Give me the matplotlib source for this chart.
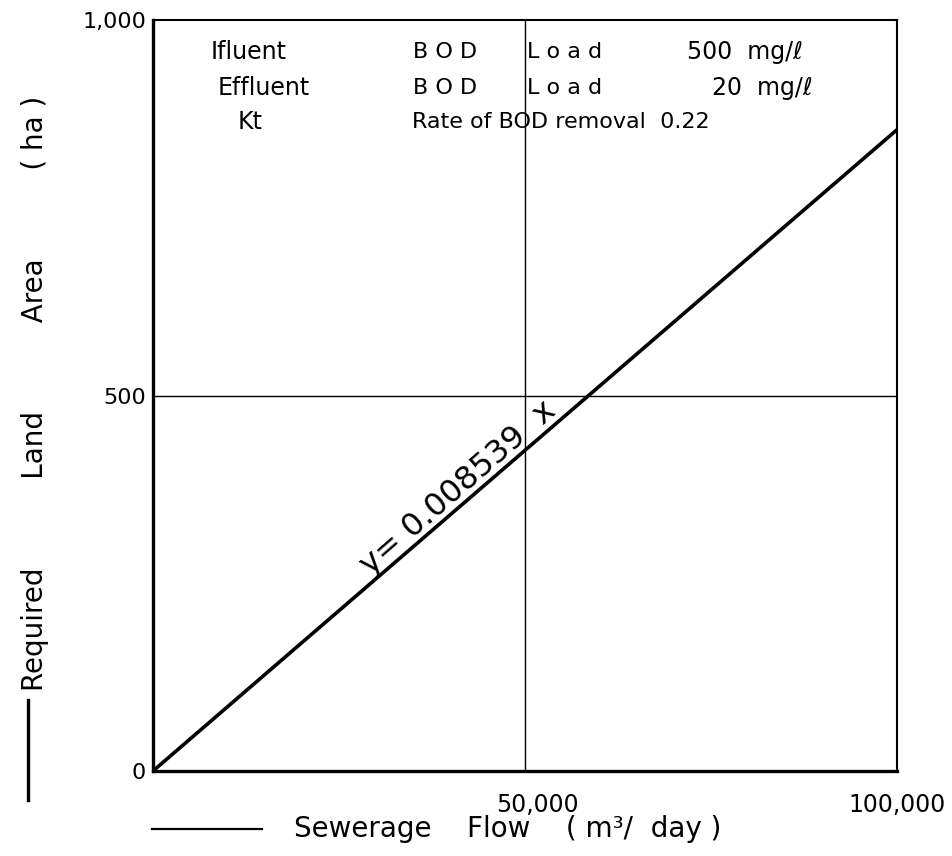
import numpy as np
import matplotlib
matplotlib.use("Agg")
import matplotlib.pyplot as plt
from matplotlib.transforms import ScaledTranslation

# data
flow = [0, 100000]            # m3/day
slope = 0.008539              # y = 0.008539 x
area = [slope * f for f in flow]

x_ticks = [50000, 100000]
x_ticklabels = ["50,000", "100,000"]
y_ticks = [0, 500, 1000]
y_ticklabels = ["0", "500", "1,000"]

row_names = ["Ifluent", "Effluent"]
row_param = ["B O D", "B O D"]
row_kind = ["L o a d", "L o a d"]
row_values = ["500  mg/\u2113", "20  mg/\u2113"]
kt_text = "Rate of BOD removal  0.22"

plt.rcParams["font.family"] = ["DejaVu Sans"]

fig = plt.figure(figsize=(9.53, 8.56), dpi=100)
ax = fig.add_axes([0.1605, 0.0993, 0.7807, 0.8773])

ax.plot(flow, area, color="black", lw=2.6, solid_capstyle="butt")

# grid lines at the mid values
ax.axvline(50000, color="black", lw=1.0)
ax.axhline(500, color="black", lw=1.0)

ax.set_xlim(0, 100000)
ax.set_ylim(0, 1000)

ax.set_xticks(x_ticks)
ax.set_xticklabels(x_ticklabels, fontsize=17)
ax.set_yticks(y_ticks)
ax.set_yticklabels(y_ticklabels, fontsize=16)
ax.tick_params(axis="both", length=0)
ax.tick_params(axis="x", pad=16)
ax.tick_params(axis="y", pad=5)
shift = ScaledTranslation(12 / 100, 0, fig.dpi_scale_trans)
lab0 = ax.get_xticklabels()[0]
lab0.set_transform(lab0.get_transform() + shift)

for s in ["left", "bottom"]:
    ax.spines[s].set_linewidth(2.4)
for s in ["top", "right"]:
    ax.spines[s].set_linewidth(1.5)

# text block in the upper part
ty = [957, 909]
name_x = [7700, 8700]
val_x = [87400, 88600]
for i, yy in enumerate(ty):
    ax.text(name_x[i], yy, row_names[i], fontsize=17, va="center")
    ax.text(35000, yy, row_param[i], fontsize=16, va="center")
    ax.text(50300, yy, row_kind[i], fontsize=16, va="center")
    ax.text(val_x[i], yy, row_values[i], fontsize=17, va="center", ha="right")
ax.text(11400, 864, "Kt", fontsize=17, va="center")
ax.text(34800, 864, kt_text, fontsize=16, va="center")

# equation along the line
ax.text(41000, 377, "y= 0.008539  x", fontsize=23, rotation=41,
        rotation_mode="anchor", ha="center", va="center")

# axis labels with arrows
fig.text(0.3085, 0.0315, "Sewerage    Flow    ( m\u00b3/  day )", fontsize=20,
         va="center", ha="left")
fig.add_artist(plt.Line2D([0.16, 0.275], [0.0315, 0.0315], color="black", lw=1.6))
sp = " " * 10
fig.text(0.037, 0.541, "Required" + sp + "Land" + sp + "Area" + sp + "( ha )",
         fontsize=20, rotation=90, va="center", ha="center")
fig.add_artist(plt.Line2D([0.029, 0.029], [0.065, 0.182], color="black", lw=2.4))

fig.savefig("out.png", dpi=100)
